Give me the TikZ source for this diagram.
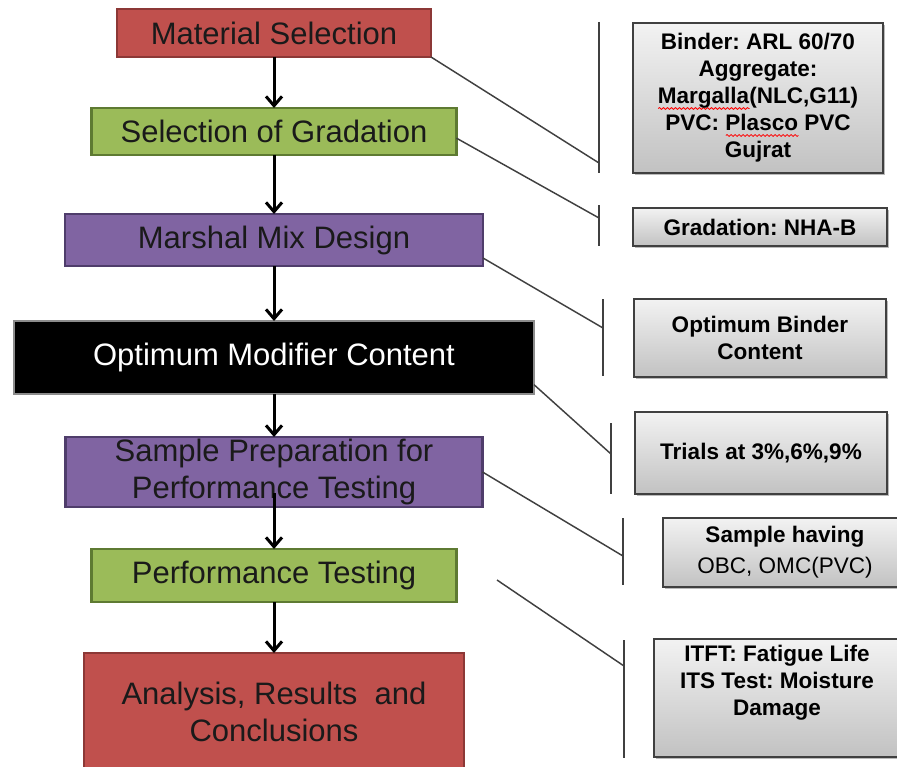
\documentclass[tikz,border=0pt]{standalone}
\usepackage{fontspec}
\setmainfont{Liberation Sans}
\frenchspacing
\usepackage{tikz}
\usetikzlibrary{shapes,arrows,shadows,calc}
\usetikzlibrary{arrows.meta,decorations.pathmorphing}
\usetikzlibrary{positioning}
\definecolor{clrRed}{HTML}{C0504D}
\definecolor{clrRedB}{HTML}{8C3836}
\definecolor{clrGreen}{HTML}{9BBB59}
\definecolor{clrGreenB}{HTML}{5E7A32}
\definecolor{clrPurple}{HTML}{8064A2}
\definecolor{clrPurpleB}{HTML}{4F3D6B}
\definecolor{clrTxt}{HTML}{1A1A1A}
\definecolor{clrLine}{HTML}{404040}
\newsavebox\wavebox
\newcommand\spellwave[1]{\sbox\wavebox{#1}\makebox[0pt][l]{\raisebox{-4.5pt}{\tikz\draw[red, line width=0.6pt, decorate, decoration={snake, amplitude=0.7pt, segment length=3pt}] (0,0) -- (\the\wd\wavebox,0);}}\usebox\wavebox}
\tikzstyle{step_box}=[draw, anchor=center, text centered, align=center, inner sep=0pt, outer sep=0pt,
line width=1.9pt, text=clrTxt, font=\fontsize{23.25pt}{27.75pt}\selectfont]
\tikzstyle{red_step}=[step_box, fill=clrRed, draw=clrRedB]
\tikzstyle{green_step}=[step_box, fill=clrGreen, draw=clrGreenB]
\tikzstyle{purple_step}=[step_box, fill=clrPurple, draw=clrPurpleB]
\tikzstyle{black_step}=[step_box, fill=black, draw=black!45, line width=0.8pt, text=white]
\tikzstyle{note_box}=[draw=clrLine, line width=1.2pt, anchor=center, text centered, align=center,
inner sep=0pt, outer sep=0pt, top color=black!5, bottom color=black!24,
drop shadow={shadow xshift=1.5pt, shadow yshift=-1.5pt, fill=black!60, opacity=0.45},
font=\fontsize{16.9pt}{20.25pt}\selectfont\bfseries]
\tikzstyle{myarrow}=[-{Straight Barb[length=7pt,width=12pt]}, line width=2.25pt]
\tikzstyle{bar_line}=[draw=clrLine, line width=1.1pt]
\begin{document}
\begin{tikzpicture}[x=0.75pt, y=-0.75pt]
		\useasboundingbox (0,0) rectangle (897,767);
		\clip (0,0) rectangle (897,767);

		% steps of the study
		\node[red_step, minimum width=235.5pt, minimum height=36pt] (mat) at (274,33) {Material Selection} ;

		\node[green_step, minimum width=273.75pt, minimum height=35.25pt, below=38.25pt of mat] (grad) {Selection of Gradation} ;
		\draw[myarrow] (mat) -- (grad) ;

		\node[purple_step, minimum width=313.5pt, minimum height=39pt, below=44.25pt of grad] (mix) {Marshal Mix Design} ;
		\draw[myarrow] (grad) -- (mix) ;

		\node[black_step, minimum width=390pt, minimum height=54.75pt, below=41.25pt of mix] (omc) {Optimum Modifier Content} ;
		\draw[myarrow] (mix) -- (omc) ;

		\node[purple_step, minimum width=312.75pt, minimum height=52.5pt, below=32.25pt of omc] (prep) {Sample Preparation for\\Performance Testing} ;
		\draw[myarrow] (omc) -- (prep) ;

		\node[green_step, minimum width=273.75pt, minimum height=39.75pt, below=31.5pt of prep] (perf) {Performance Testing} ;
		\draw[myarrow] ($(prep.south)+(0,-14)$) -- (perf) ; % starts inside the box

		\node[red_step, minimum width=285pt, minimum height=88.5pt, below=38.25pt of perf] (res) {Analysis, Results ~and\\Conclusions} ;
		\draw[myarrow] (perf) -- (res) ;

		% notes on the right
		\node[note_box, minimum width=187.5pt, minimum height=112.5pt] (nMat) at (758,98) {Binder: ARL 60/70\\Aggregate:\\\spellwave{Margalla}(NLC,G11)\\PVC: \spellwave{Plasco} PVC\\Gujrat} ;
		\node[note_box, minimum width=190.5pt, minimum height=28.5pt] (nGrad) at (760,227) {Gradation: NHA-B} ;
		\node[note_box, minimum width=189pt, minimum height=58.5pt] (nMix) at (760,338) {Optimum Binder\\Content} ;
		\node[note_box, minimum width=189pt, minimum height=61.5pt] (nOmc) at (761,453) {Trials at 3\%,6\%,9\%} ;
		\node[note_box, minimum width=183pt, minimum height=51.75pt] (nPrep) at (785,552.5) {Sample having\\[3pt]\mdseries OBC, OMC(PVC)} ;
		\node[note_box, minimum width=184.5pt, minimum height=88.5pt] (nPerf) at (777,698) {ITFT: Fatigue Life\\ITS Test: Moisture\\Damage\\\strut} ;

		% brackets
		\foreach \i/\bx/\ty/\my/\by in {1/599/22/163/173, 2/599/205/218/246, 3/603/299/328/376,
		4/611/423/454/494, 5/623/518/556/585, 6/624/640/666/758}{
			\coordinate (t\i) at (\bx,\ty) ;
			\coordinate (m\i) at (\bx,\my) ;
			\coordinate (e\i) at (\bx,\by) ;
			\draw[bar_line] (t\i) -- (e\i) ;
		}
		\coordinate (p6) at (497,580) ;

		\draw[bar_line] (mat.south east) -- (m1) ;
		\draw[bar_line] ([yshift=-5pt]grad.east) -- (m2) ;
		\draw[bar_line] ([yshift=6pt]mix.south east) -- (m3) ;
		\draw[bar_line] ([yshift=7pt]omc.south east) -- (m4) ;
		\draw[bar_line] (prep.east) -- (m5) ;
		\draw[bar_line] (p6) -- (m6) ;

	\end{tikzpicture}
\end{document}
